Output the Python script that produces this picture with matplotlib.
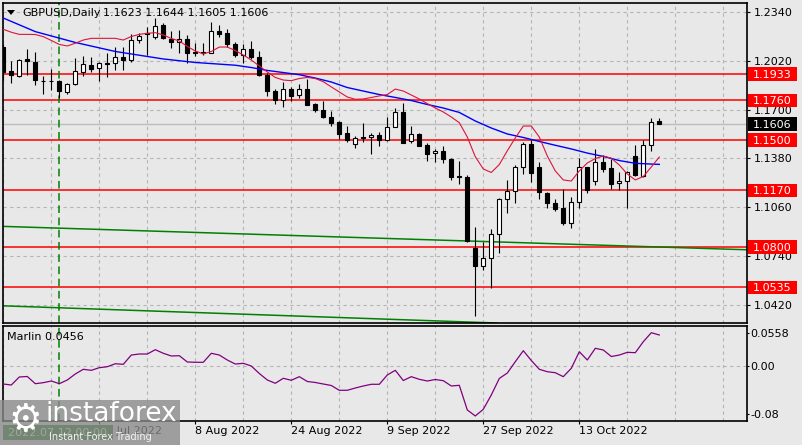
import matplotlib
matplotlib.use("Agg")
import matplotlib.pyplot as plt
import matplotlib.transforms as mtransforms
from matplotlib.patches import Rectangle, Polygon
import numpy as np

plt.rcParams['font.family'] = ['DejaVu Sans']

# ---------------- data ----------------
symbol_text = "GBPUSD,Daily"
ohlc_text = "1.1623 1.1644 1.1605 1.1606"

opens = [1.2109, 1.1952, 1.1920, 1.2028, 1.2009, 1.1890, 1.1890, 1.1887, 1.1815, 1.1867,
         1.1948, 1.1992, 1.1970, 1.2005, 1.2003, 1.2042, 1.2024, 1.2155, 1.2201, 1.2173,
         1.2253, 1.2162, 1.2145, 1.2162, 1.2079, 1.2079, 1.2073, 1.2213, 1.2201, 1.2128,
         1.2060, 1.2093, 1.2047, 1.1926, 1.1821, 1.1762, 1.1833, 1.1792, 1.1833, 1.1736,
         1.1700, 1.1654, 1.1618, 1.1546, 1.1473, 1.1520, 1.1518, 1.1533, 1.1501, 1.1588,
         1.1682, 1.1496, 1.1538, 1.1468, 1.1414, 1.1429, 1.1376, 1.1267, 1.1256, 1.0794,
         1.0678, 1.0726, 1.0883, 1.1112, 1.1167, 1.1322, 1.1472, 1.1322, 1.1156, 1.1086,
         1.1054, 1.0959, 1.1097, 1.1322, 1.1234, 1.1357, 1.1315, 1.1219, 1.1234, 1.1396,
         1.1268, 1.1465, 1.1623]
highs = [1.2129, 1.2020, 1.2031, 1.2094, 1.2079, 1.1920, 1.1965, 1.1893, 1.1872, 1.2035,
         1.2050, 1.2046, 1.2013, 1.2068, 1.2111, 1.2107, 1.2192, 1.2203, 1.2242, 1.2297,
         1.2268, 1.2214, 1.2221, 1.2188, 1.2134, 1.2136, 1.2276, 1.2253, 1.2225, 1.2144,
         1.2132, 1.2147, 1.2083, 1.1939, 1.1834, 1.1880, 1.1848, 1.1867, 1.1900, 1.1743,
         1.1754, 1.1690, 1.1628, 1.1594, 1.1524, 1.1610, 1.1544, 1.1555, 1.1651, 1.1708,
         1.1741, 1.1592, 1.1546, 1.1479, 1.1442, 1.1461, 1.1385, 1.1363, 1.1271, 1.0931,
         1.0835, 1.0917, 1.1119, 1.1239, 1.1337, 1.1489, 1.1500, 1.1359, 1.1162, 1.1112,
         1.1178, 1.1129, 1.1385, 1.1326, 1.1440, 1.1402, 1.1374, 1.1293, 1.1300, 1.1468,
         1.1500, 1.1643, 1.1644]
lows = [1.1893, 1.1876, 1.1913, 1.1926, 1.1861, 1.1802, 1.1828, 1.1776, 1.1802, 1.1861,
        1.1920, 1.1948, 1.1889, 1.1915, 1.1959, 1.1959, 1.2013, 1.2134, 1.2057, 1.2160,
        1.2160, 1.2103, 1.2068, 1.2005, 1.2050, 1.2057, 1.2068, 1.2177, 1.2111, 1.2047,
        1.2005, 1.2031, 1.1920, 1.1789, 1.1738, 1.1715, 1.1753, 1.1776, 1.1730, 1.1687,
        1.1645, 1.1594, 1.1505, 1.1488, 1.1446, 1.1489, 1.1406, 1.1458, 1.1491, 1.1584,
        1.1483, 1.1478, 1.1458, 1.1360, 1.1357, 1.1348, 1.1239, 1.1211, 1.0835, 1.0349,
        1.0650, 1.0532, 1.0759, 1.1021, 1.1086, 1.1278, 1.1228, 1.1112, 1.1054, 1.1038,
        1.0944, 1.0923, 1.1054, 1.1152, 1.1206, 1.1293, 1.1178, 1.1173, 1.1057, 1.1267,
        1.1260, 1.1431, 1.1605]
closes = [1.1946, 1.1926, 1.2022, 1.2018, 1.1893, 1.1887, 1.1887, 1.1821, 1.1865, 1.1952,
          1.1998, 1.1967, 1.2003, 1.1998, 1.2046, 1.2024, 1.2155, 1.2183, 1.2194, 1.2249,
          1.2166, 1.2145, 1.2160, 1.2067, 1.2068, 1.2070, 1.2211, 1.2194, 1.2132, 1.2054,
          1.2093, 1.2047, 1.1926, 1.1823, 1.1762, 1.1833, 1.1791, 1.1832, 1.1731, 1.1700,
          1.1654, 1.1613, 1.1540, 1.1501, 1.1512, 1.1512, 1.1533, 1.1501, 1.1584, 1.1682,
          1.1484, 1.1538, 1.1463, 1.1412, 1.1429, 1.1374, 1.1260, 1.1256, 1.0839, 1.0678,
          1.0726, 1.0883, 1.1112, 1.1167, 1.1322, 1.1472, 1.1283, 1.1162, 1.1086, 1.1052,
          1.0959, 1.1095, 1.1322, 1.1173, 1.1357, 1.1311, 1.1211, 1.1232, 1.1293, 1.1271,
          1.1468, 1.1620, 1.1606]

red_ma = [1.2225, 1.2206, 1.2192, 1.2192, 1.2191, 1.2177, 1.2152, 1.2126, 1.2116, 1.2134,
          1.2155, 1.2166, 1.2166, 1.2166, 1.2166, 1.2155, 1.2178, 1.2192, 1.2199, 1.2203,
          1.2188, 1.2165, 1.2149, 1.2113, 1.2083, 1.2064, 1.2080, 1.2109, 1.2109, 1.2086,
          1.2057, 1.2024, 1.1985, 1.1946, 1.1910, 1.1893, 1.1889, 1.1903, 1.1910, 1.1903,
          1.1882, 1.1848, 1.1815, 1.1782, 1.1767, 1.1769, 1.1779, 1.1789, 1.1798, 1.1834,
          1.1821, 1.1795, 1.1769, 1.1739, 1.1710, 1.1684, 1.1651, 1.1614, 1.1520, 1.1391,
          1.1311, 1.1288, 1.1340, 1.1430, 1.1514, 1.1592, 1.1592, 1.1520, 1.1396, 1.1298,
          1.1239, 1.1232, 1.1298, 1.1350, 1.1379, 1.1396, 1.1381, 1.1337, 1.1278, 1.1239,
          1.1262, 1.1324, 1.1389]

blue_ma_idx = [0, 4, 9, 14, 20, 24, 29, 31, 33, 35, 37, 39, 41, 43, 45, 47, 49, 51, 53, 55,
               57, 59, 61, 63, 65, 67, 69, 71, 73, 75, 77, 79, 81, 82]
blue_ma_val = [1.2299, 1.2210, 1.2139, 1.2080, 1.2031, 1.2008, 1.1990, 1.1975, 1.1956, 1.1942,
               1.1928, 1.1906, 1.1880, 1.1844, 1.1821, 1.1798, 1.1779, 1.1759, 1.1733, 1.1710,
               1.1681, 1.1625, 1.1579, 1.1540, 1.1517, 1.1491, 1.1466, 1.1442, 1.1415, 1.1393,
               1.1366, 1.1348, 1.1343, 1.1341]

marlin = [-0.0300, -0.0317, -0.0183, -0.0175, -0.0295, -0.0278, -0.0250, -0.0295, -0.0233, -0.0133,
          -0.0055, -0.0072, -0.0028, -0.0012, 0.0038, 0.0028, 0.0183, 0.0200, 0.0200, 0.0272,
          0.0212, 0.0167, 0.0172, 0.0067, 0.0062, 0.0062, 0.0212, 0.0183, 0.0100, 0.0033,
          0.0045, 0.0000, -0.0125, -0.0233, -0.0288, -0.0205, -0.0238, -0.0178, -0.0258, -0.0275,
          -0.0300, -0.0325, -0.0405, -0.0405, -0.0367, -0.0333, -0.0305, -0.0305, -0.0150, -0.0072,
          -0.0242, -0.0178, -0.0222, -0.0250, -0.0225, -0.0245, -0.0333, -0.0322, -0.0733, -0.0833,
          -0.0722, -0.0483, -0.0208, -0.0117, 0.0072, 0.0255, 0.0092, -0.0055, -0.0095, -0.0112,
          -0.0178, -0.0038, 0.0238, 0.0100, 0.0295, 0.0267, 0.0158, 0.0183, 0.0228, 0.0222,
          0.0405, 0.0555, 0.0517]

levels_red = [1.1933, 1.1760, 1.1500, 1.1170, 1.0800, 1.0535]
last_price = 1.1606
price_ticks = [1.2340, 1.2020, 1.1700, 1.1380, 1.1060, 1.0740, 1.0420]
marlin_ticks = [0.0558, 0.0, -0.08]
marlin_tick_labels = ['0.0558', '0.00', '-0.08']
date_tick_idx = [12, 24, 36, 48, 60, 72]
date_tick_labels = ['21 Jul 2022', '8 Aug 2022', '24 Aug 2022', '9 Sep 2022',
                    '27 Sep 2022', '13 Oct 2022']
trend_upper = [(0, 1.0935), (82, 1.0800)]
trend_lower = [(0, 1.0415), (62, 1.0302)]
cursor_idx = 7
cursor_label = "2022.07.12 00:00"
marlin_label = "Marlin 0.0456"

# ---------------- figure ----------------
W, H = 803, 445
BG = '#e8e8e8'
GRID = '#b5b5b5'
fig = plt.figure(figsize=(W / 100, H / 100), dpi=100, facecolor=BG)


def rect(x0, y0, x1, y1):
    return [x0 / W, 1 - y1 / H, (x1 - x0) / W, (y1 - y0) / H]


ax = fig.add_axes(rect(2.7, 2.7, 746.7, 323))
ax2 = fig.add_axes(rect(2.7, 326, 746.7, 420.7))
XLIM = (-0.075, 92.925)
for a in (ax, ax2):
    a.set_facecolor(BG)
    a.set_xlim(*XLIM)
    for s in a.spines.values():
        s.set_linewidth(1.2)
        s.set_color('black')
ax.set_ylim(1.03026, 1.23993)
ax2.set_ylim(-0.0912, 0.0667)

# grids
grid_x = np.arange(0, 93, 6)
ax.set_xticks(grid_x)
ax.tick_params(axis='x', length=0, labelbottom=False)
ax.grid(axis='x', color=GRID, linestyle=(0, (3, 3)), linewidth=0.8)
ax.yaxis.tick_right()
ax.set_yticks(price_ticks)
ax.set_yticklabels([f'{p:.4f}' for p in price_ticks])
ax.tick_params(axis='y', length=2.2, width=0.8, pad=2.6, labelsize=8)
ax.grid(axis='y', color=GRID, linestyle=(0, (3, 3)), linewidth=0.8)
ax.set_axisbelow(True)

ax2.set_xticks(date_tick_idx)
ax2.set_xticklabels(date_tick_labels)
ax2.set_xticks(grid_x, minor=True)
ax2.tick_params(axis='x', which='major', length=2.5, width=0.8, pad=1.5, labelsize=8)
ax2.tick_params(axis='x', which='minor', length=0)
for lbl in ax2.get_xticklabels():
    lbl.set_horizontalalignment('left')
ax2.grid(axis='x', which='both', color=GRID, linestyle=(0, (3, 3)), linewidth=0.8)
ax2.yaxis.tick_right()
ax2.set_yticks(marlin_ticks)
ax2.set_yticklabels(marlin_tick_labels)
ax2.tick_params(axis='y', length=1.5, width=0.8, pad=1.2, labelsize=8)
ax2.axhline(0, color=GRID, linestyle=(0, (3, 3)), linewidth=0.8, zorder=1)
ax2.set_axisbelow(True)

# ---------------- main panel ----------------
x = np.arange(len(closes))
o = np.array(opens)
c = np.array(closes)
h = np.array(highs)
l = np.array(lows)

for lv in levels_red:
    ax.axhline(lv, color='#ff0000', linewidth=1.1, zorder=2)
ax.axhline(last_price, color='#bdbdbd', linewidth=1.0, zorder=1.5)

ax.axline(trend_upper[0], trend_upper[1], color='#008000', linewidth=1.1, zorder=2)
ax.axline(trend_lower[0], trend_lower[1], color='#008000', linewidth=1.1, zorder=2)

for a in (ax, ax2):
    a.axvline(cursor_idx, color='#008000', linewidth=1.1, linestyle=(0, (5, 3)), zorder=2)

ax.vlines(x, l, h, color='black', linewidth=0.8, zorder=3)
up = c >= o
body_bottom = np.minimum(o, c)
body_h = np.maximum(np.abs(c - o), 0.00008)
ax.bar(x, body_h, bottom=body_bottom, width=0.5,
       color=np.where(up, 'white', 'black'), edgecolor='black', linewidth=0.8, zorder=4)

ax.plot(blue_ma_idx, blue_ma_val, color='#0000ff', linewidth=1.0, zorder=5)
ax.plot(x, red_ma, color='#dc143c', linewidth=0.8, zorder=5)

# right-side price boxes
trans = mtransforms.blended_transform_factory(ax.transAxes, ax.transData)
axw = 744.0
box_x0 = (747.7 - 2.7) / axw
box_w = 49.3 / axw
box_h = 13.3 * 0.0006546
txt_x = (753.3 - 2.7) / axw
for lv, fc in [(v, '#ff0000') for v in levels_red] + [(last_price, 'black')]:
    ax.add_patch(Rectangle((box_x0, lv - box_h / 2), box_w, box_h, transform=trans,
                           facecolor=fc, edgecolor='none', clip_on=False, zorder=8))
    ax.text(txt_x, lv, f'{lv:.4f}', transform=trans, ha='left', va='center_baseline',
            color='white', fontsize=8, clip_on=False, zorder=9)

# ---------------- lower panel ----------------
ax2.plot(x, marlin, color='#800080', linewidth=0.9, zorder=3)


# ---------------- texts / overlays ----------------
def fxy(px, py):
    return px / W, 1 - py / H


fig.add_artist(Polygon([fxy(7, 10), fxy(15, 10), fxy(11, 15)], closed=True,
                       transform=fig.transFigure, facecolor='black', edgecolor='none', zorder=10))
fig.text(*fxy(22, 13), symbol_text, fontsize=8, va='center', ha='left', zorder=10)
fig.text(*fxy(103, 13), ohlc_text, fontsize=8, va='center', ha='left', zorder=10)
fig.text(*fxy(7, 337), marlin_label, fontsize=8, va='center', ha='left', zorder=10)

# cursor date label
fig.add_artist(Rectangle(fxy(3, 440), 110 / W, 15 / H, transform=fig.transFigure,
                         facecolor='#1f7a1f', edgecolor='none', zorder=15))
fig.text(*fxy(8, 432.5), cursor_label, fontsize=8, va='center', ha='left',
         color='white', zorder=16)

# watermark
fig.add_artist(Rectangle(fxy(0, 445), 180 / W, 45 / H, transform=fig.transFigure,
                         facecolor='#8a8a8a', alpha=0.78, edgecolor='none', zorder=20))
fig.text(*fxy(25, 421), '\u2699', fontsize=27, va='center', ha='center',
         color='white', zorder=21)
fig.text(*fxy(46, 414), 'instaforex', fontsize=19, va='center', ha='left',
         color='white', zorder=21)
fig.text(*fxy(49, 436.5), 'Instant Forex Trading', fontsize=7, va='center', ha='left',
         color='#f2f2f2', zorder=21)

fig.savefig('out.png', dpi=100, facecolor=BG)
